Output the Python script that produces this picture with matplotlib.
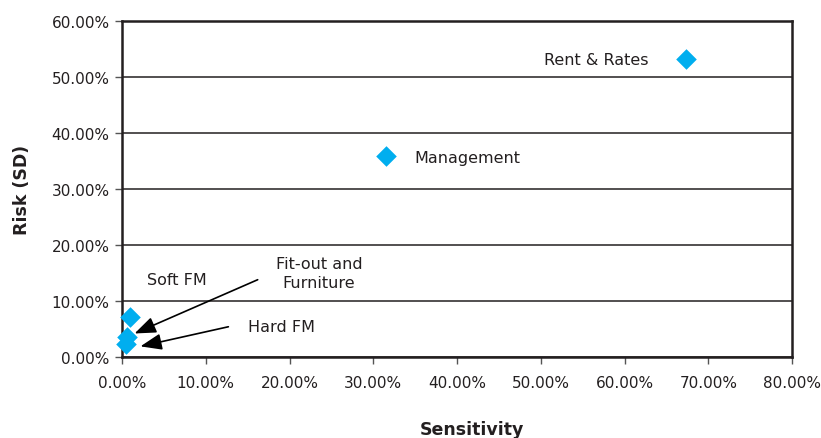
import matplotlib
matplotlib.use("Agg")
import matplotlib.pyplot as plt
from matplotlib.ticker import FuncFormatter

# Data (percent)
names = ["Rent & Rates", "Management", "Soft FM", "Fit-out and\nFurniture", "Hard FM"]
sensitivity = [67.3, 31.5, 1.0, 0.6, 0.5]
risk = [53.2, 35.8, 7.1, 3.5, 2.4]

x_ticks = [0, 10, 20, 30, 40, 50, 60, 70, 80]
y_ticks = [0, 10, 20, 30, 40, 50, 60]

# label placement (data coords)
label_pos = {
    "Rent & Rates": (50.4, 53.2, "left"),
    "Management": (34.9, 35.6, "left"),
    "Soft FM": (3.0, 13.9, "left"),
    "Hard FM": (15.1, 5.5, "left"),
}
arrow_labels = [
    # text, text position, arrow start, arrow end
    ("Fit-out and\nFurniture", (23.5, 15.0), (16.2, 13.8), (1.5, 4.2)),
    ("Hard FM", None, (12.7, 5.4), (2.2, 1.9)),
]

plt.rcParams['font.family'] = ['DejaVu Sans']
ink = '#231F20'
fs = 11.5

fig = plt.figure(figsize=(8.21, 4.39), dpi=100)
ax = fig.add_axes([0.1486, 0.1845, 0.8161, 0.7655])

ax.set_xlim(0, 80)
ax.set_ylim(0, 60)
ax.set_xticks(x_ticks)
ax.set_yticks(y_ticks)
fmt = FuncFormatter(lambda v, p: f"{v:.2f}%")
ax.xaxis.set_major_formatter(fmt)
ax.yaxis.set_major_formatter(fmt)

ax.grid(axis='y', color=ink, linewidth=1.1)
ax.set_axisbelow(True)
for s in ax.spines.values():
    s.set_linewidth(1.8)
    s.set_color(ink)

ax.tick_params(axis='both', direction='out', length=5, width=1, color='#555555',
               labelsize=11, labelcolor=ink)
ax.tick_params(axis='x', pad=8)
ax.tick_params(axis='y', pad=4)

ax.scatter(sensitivity, risk, marker='D', s=110, color='#00AEEF', zorder=3,
           clip_on=False, linewidths=0)

for name, (tx, ty, ha) in label_pos.items():
    ax.text(tx, ty, name, ha=ha, va='center', fontsize=fs, color=ink)

for text, tpos, start, end in arrow_labels:
    if tpos is not None:
        ax.text(tpos[0], tpos[1], text, ha='center', va='center', fontsize=fs,
                color=ink, linespacing=1.35)
    ax.annotate('', xy=end, xytext=start,
                arrowprops=dict(arrowstyle='-|>,head_length=1.3,head_width=0.5',
                                color='black', lw=1.2, shrinkA=0, shrinkB=0),
                annotation_clip=False)

fig.text(472/821, 1 - 430/439, "Sensitivity", ha='center', va='center',
         fontsize=12.5, fontweight='bold', color=ink)
fig.text(22/821, 1 - 190/439, "Risk (SD)", ha='center', va='center',
         fontsize=12.5, fontweight='bold', color=ink, rotation=90)

fig.savefig("out.png", dpi=100)
